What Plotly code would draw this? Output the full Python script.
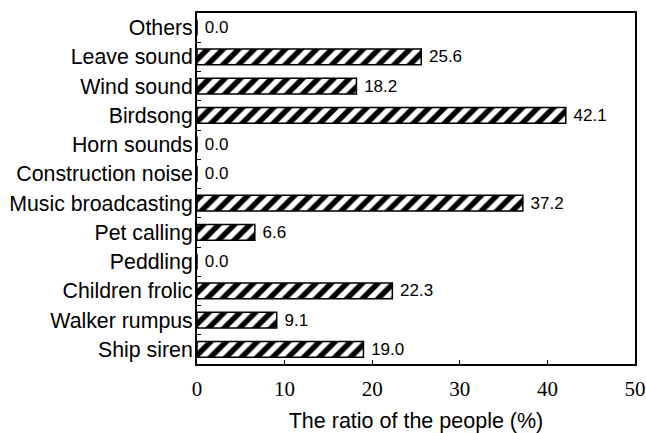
import plotly.graph_objects as go

categories = ["Ship siren", "Walker rumpus", "Children frolic", "Peddling", "Pet calling",
              "Music broadcasting", "Construction noise", "Horn sounds", "Birdsong",
              "Wind sound", "Leave sound", "Others"]
values = [19.0, 9.1, 22.3, 0.0, 6.6, 37.2, 0.0, 0.0, 42.1, 18.2, 25.6, 0.0]
x_ticks = [0, 10, 20, 30, 40, 50]
x_title = "The ratio of the people (%)"

fig = go.Figure(go.Bar(
    x=values, y=categories, orientation="h",
    marker=dict(color="white", line=dict(color="black", width=1.5),
                pattern=dict(shape="/", fgcolor="black", bgcolor="white",
                             size=11, solidity=0.5, fillmode="replace")),
    text=["\u00a0" + f"{v:.1f}" for v in values], textposition="outside",
    constraintext="none",
    textfont=dict(family="Liberation Sans, Arial", size=17, color="black"),
    cliponaxis=False, width=0.53, hoverinfo="skip",
))

fig.update_layout(
    width=646, height=433,
    margin=dict(l=197, r=11, t=13, b=69),
    plot_bgcolor="white", paper_bgcolor="white",
    showlegend=False,
)
fig.update_xaxes(
    range=[0, 50], tickvals=x_ticks, ticktext=[str(t) for t in x_ticks],
    ticks="inside", ticklen=4, tickwidth=1, tickcolor="black",
    showline=True, linecolor="black", linewidth=2, mirror=True,
    showgrid=False, zeroline=False, automargin=False,
    tickfont=dict(family="Liberation Serif, Times New Roman", size=21, color="black"),
    ticklabelstandoff=5,
    title=dict(text=x_title, font=dict(family="Liberation Sans, Arial", size=21.5, color="black"), standoff=14),
)
fig.update_yaxes(
    categoryorder="array", categoryarray=categories,
    ticks="inside", ticklen=4, tickwidth=1, tickcolor="black", tickson="boundaries",
    showline=True, linecolor="black", linewidth=2, mirror=True,
    showgrid=False, zeroline=False, automargin=False,
    tickfont=dict(family="Liberation Sans, Arial", size=21.3, color="black"),
    ticklabelstandoff=-2,
)

fig.write_html("out.html", config={"displayModeBar": False},
               post_script="document.body.style.margin='0';document.body.style.padding='0';")
